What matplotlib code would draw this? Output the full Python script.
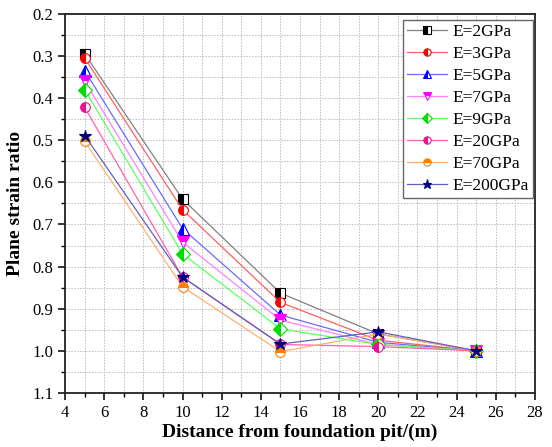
import numpy as np
import matplotlib.pyplot as plt
from matplotlib.ticker import MultipleLocator

plt.rcParams['font.family'] = ['Liberation Serif', 'DejaVu Serif']

distance = [5, 10, 15, 20, 25]
labels = ['E=2GPa', 'E=3GPa', 'E=5GPa', 'E=7GPa', 'E=9GPa',
          'E=20GPa', 'E=70GPa', 'E=200GPa']

e2 = [0.295, 0.640, 0.863, 0.960, 1.000]
e3 = [0.305, 0.665, 0.885, 0.975, 1.000]
e5 = [0.335, 0.710, 0.915, 0.980, 1.000]
e7 = [0.360, 0.742, 0.927, 0.985, 1.000]
e9 = [0.380, 0.770, 0.948, 0.985, 1.000]
e20 = [0.422, 0.825, 0.985, 0.990, 1.000]
e70 = [0.503, 0.848, 1.002, 0.960, 1.000]
e200 = [0.489, 0.825, 0.984, 0.955, 1.000]
series = [e2, e3, e5, e7, e9, e20, e70, e200]

line_colors = ['#808080', '#ff6060', '#6a6aff', '#ff80ff', '#60ff60',
               '#ff60b0', '#ffb070', '#6060c0']
mark_colors = ['black', 'red', 'blue', 'magenta', '#00dd00',
               '#ee1090', '#ff8000', '#000080']
markers = ['s', 'o', '^', 'v', 'D', 'o', 'o', '*']
fills = ['left', 'left', 'left', 'top', 'left', 'left', 'top', 'full']
sizes = [7, 7, 8, 8, 7, 7, 7, 9]

fig, ax = plt.subplots(figsize=(5.52, 4.47), dpi=100)
fig.subplots_adjust(left=0.118, right=0.969, top=0.969, bottom=0.121)

for y, lab, lc, mc, m, fs, ms in zip(series, labels, line_colors, mark_colors,
                                     markers, fills, sizes):
    ax.plot(distance, y, color=lc, linewidth=0.9, marker=m, markersize=ms,
            fillstyle=fs, markerfacecolor=mc, markerfacecoloralt='white',
            markeredgecolor=mc, markeredgewidth=0.8, label=lab)

ax.set_xlim(4, 28)
ax.set_ylim(1.1, 0.2)
ax.xaxis.set_major_locator(MultipleLocator(2))
ax.xaxis.set_minor_locator(MultipleLocator(1))
ax.yaxis.set_major_locator(MultipleLocator(0.1))
ax.yaxis.set_minor_locator(MultipleLocator(0.05))
ax.yaxis.set_major_formatter(plt.FuncFormatter(lambda v, p: f'{v:.1f}'))
ax.grid(which='both', color='#bbbbbb', linestyle=(0, (1.5, 1.5)), linewidth=0.7)
ax.tick_params(which='major', direction='out', length=5, width=1.1, labelsize=12)
ax.tick_params(which='minor', direction='out', length=3, width=1.0)
for s in ax.spines.values():
    s.set_linewidth(1.3)
    s.set_color('#222222')

ax.set_xlabel('Distance from foundation pit/(m)', fontsize=14, fontweight='bold',
              labelpad=2)
ax.set_ylabel('Plane strain ratio', fontsize=14, fontweight='bold', labelpad=6)

leg = ax.legend(loc='upper right', bbox_to_anchor=(0.996, 0.984),
                fontsize=12.5, fancybox=False, framealpha=1,
                edgecolor='#666666', borderpad=0.25, labelspacing=0.33,
                handlelength=2.3, handletextpad=0.3, borderaxespad=0,
                markerscale=0.75)
leg.get_frame().set_linewidth(1.0)

fig.savefig('out.png')
